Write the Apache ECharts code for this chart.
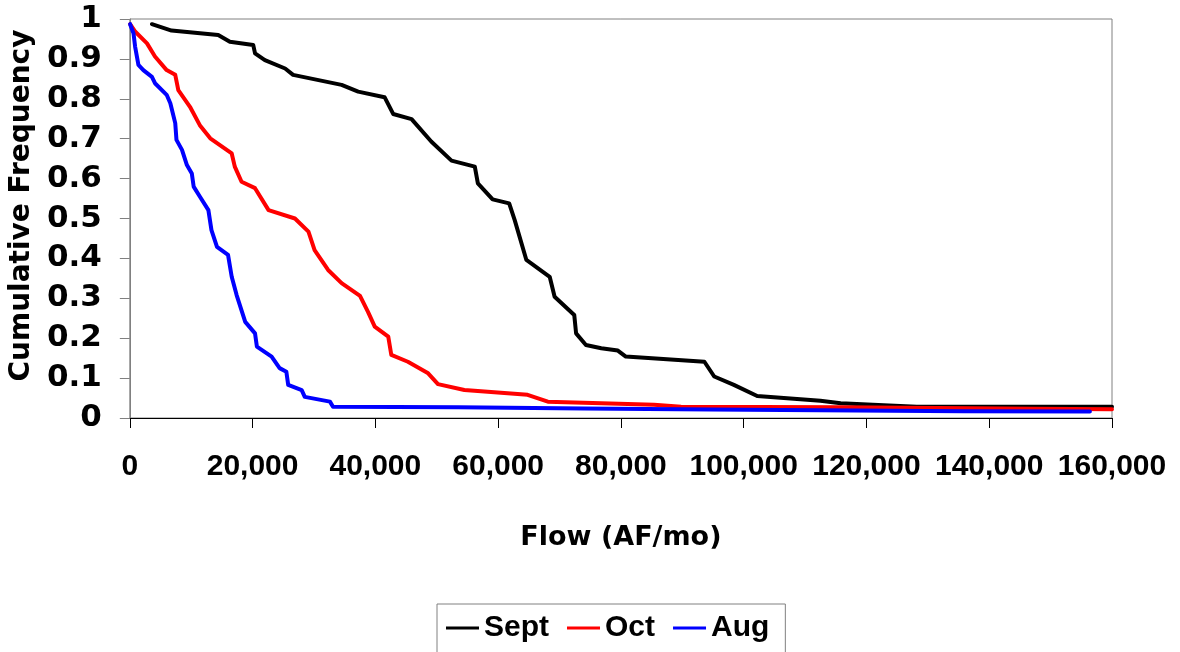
<!DOCTYPE html>
<html>
<head>
<meta charset="utf-8">
<script src="https://cdn.jsdelivr.net/npm/echarts@6/dist/echarts.min.js"></script>
<style>
  html, body { margin: 0; padding: 0; background: #fff; }
  #chart { width: 1180px; height: 652px; }
</style>
</head>
<body>
<div id="chart"></div>
<script>
// Cumulative frequency of monthly flow (AF/mo), read as [flow, frequency] pairs
const septFlow = [3600, 6800, 14400, 16300, 20100, 20400, 22000, 25300, 26600, 34500, 37200, 41500, 42900, 45900, 49100, 52400, 56200, 56700, 59100, 61800, 62700, 64600, 68400, 69200, 72400, 72700, 74300, 76800, 79500, 80800, 93600, 95200, 98400, 102200, 112500, 115800, 122800, 128200, 160000];
const septFreq = [0.987, 0.971, 0.960, 0.943, 0.935, 0.914, 0.897, 0.876, 0.860, 0.835, 0.818, 0.804, 0.762, 0.749, 0.693, 0.645, 0.630, 0.588, 0.548, 0.538, 0.496, 0.396, 0.354, 0.304, 0.258, 0.212, 0.183, 0.175, 0.169, 0.154, 0.141, 0.104, 0.083, 0.055, 0.043, 0.037, 0.032, 0.028, 0.028];

const octFlow = [50, 900, 2800, 4100, 6000, 7400, 7900, 9800, 11400, 13100, 16600, 17100, 18200, 20400, 22600, 26900, 29100, 30100, 32300, 34500, 37500, 38800, 39900, 42100, 42600, 45300, 48600, 50200, 54500, 64800, 68100, 76800, 85400, 89800, 115800, 147200, 160000];
const octFreq = [0.987, 0.968, 0.939, 0.906, 0.872, 0.860, 0.822, 0.780, 0.734, 0.701, 0.663, 0.630, 0.592, 0.576, 0.521, 0.500, 0.467, 0.421, 0.371, 0.338, 0.306, 0.266, 0.229, 0.204, 0.158, 0.141, 0.112, 0.085, 0.070, 0.058, 0.041, 0.037, 0.033, 0.028, 0.027, 0.023, 0.022];

const augFlow = [50, 600, 860, 1400, 2200, 3600, 4100, 6000, 6600, 7400, 7600, 8500, 9300, 10100, 10400, 11400, 12800, 13300, 14200, 16000, 16600, 17400, 18800, 20400, 20700, 23100, 24400, 25500, 25800, 28000, 28500, 32600, 33100, 53500, 74000, 94600, 135800, 156400];
const augFreq = [0.987, 0.964, 0.931, 0.885, 0.872, 0.855, 0.839, 0.810, 0.789, 0.739, 0.697, 0.672, 0.634, 0.613, 0.580, 0.555, 0.521, 0.471, 0.429, 0.409, 0.354, 0.308, 0.241, 0.212, 0.179, 0.154, 0.125, 0.116, 0.083, 0.070, 0.053, 0.041, 0.028, 0.027, 0.024, 0.021, 0.017, 0.016];

const seriesNames = ['Sept', 'Oct', 'Aug'];
const seriesColors = ['#000000', '#ff0000', '#0000ff'];

const yTickLabels = ['0', '0.1', '0.2', '0.3', '0.4', '0.5', '0.6', '0.7', '0.8', '0.9', '1'];
const xTickLabels = ['0', '20,000', '40,000', '60,000', '80,000', '100,000', '120,000', '140,000', '160,000'];

const pairs = (xs, ys) => xs.map((x, i) => [x, ys[i]]);
const seriesData = [pairs(septFlow, septFreq), pairs(octFlow, octFreq), pairs(augFlow, augFreq)];

const chart = echarts.init(document.getElementById('chart'), null, { renderer: 'canvas' });

chart.setOption({
  animation: false,
  backgroundColor: '#ffffff',
  grid: {
    left: 128, right: 68, top: 19, bottom: 234,
    show: true, borderColor: '#808080', borderWidth: 1, backgroundColor: 'transparent'
  },
  legend: {
    left: 437, top: 604,
    orient: 'horizontal',
    icon: 'rect',
    itemWidth: 33, itemHeight: 3, itemGap: 18,
    padding: [9, 16, 14, 9],
    borderColor: '#808080', borderWidth: 1,
    data: seriesNames,
    textStyle: { fontFamily: 'Liberation Sans, Arial, sans-serif', fontWeight: 'bold', fontSize: 30, color: '#000' }
  },
  xAxis: {
    type: 'value', min: 0, max: 160000, interval: 20000,
    name: 'Flow (AF/mo)', nameLocation: 'middle', nameGap: 106,
    nameTextStyle: { fontFamily: 'DejaVu Sans, sans-serif', fontWeight: 'bold', fontSize: 27, color: '#000' },
    axisLine: { onZero: false, lineStyle: { color: '#000', width: 1 } },
    axisTick: { show: true, inside: false, length: 10, lineStyle: { color: '#000' } },
    axisLabel: {
      margin: 34, color: '#000',
      fontFamily: 'Liberation Sans, Arial, sans-serif', fontWeight: 'bold', fontSize: 30,
      formatter: v => xTickLabels[Math.round(v / 20000)]
    },
    splitLine: { show: false }
  },
  yAxis: {
    type: 'value', min: 0, max: 1, interval: 0.1,
    name: 'Cumulative Frequency', nameLocation: 'middle', nameGap: 84,
    nameTextStyle: { fontFamily: 'DejaVu Sans, sans-serif', fontWeight: 'bold', fontSize: 28, color: '#000', padding: [0, 0, 0, 26] },
    axisLine: { show: true, lineStyle: { color: '#808080', width: 1 } },
    axisTick: { show: true, inside: false, length: 10, lineStyle: { color: '#808080' } },
    axisLabel: {
      margin: 28, color: '#000',
      fontFamily: 'DejaVu Sans, sans-serif', fontWeight: 'bold', fontSize: 31,
      formatter: v => yTickLabels[Math.round(v * 10)]
    },
    splitLine: { show: false }
  },
  series: seriesNames.map((name, i) => ({
    name,
    type: 'line',
    data: seriesData[i],
    showSymbol: false,
    symbol: 'none',
    smooth: false,
    color: seriesColors[i],
    lineStyle: { color: seriesColors[i], width: 4, join: 'round', cap: 'round' },
    z: 2 + i
  }))
});
</script>
</body>
</html>
